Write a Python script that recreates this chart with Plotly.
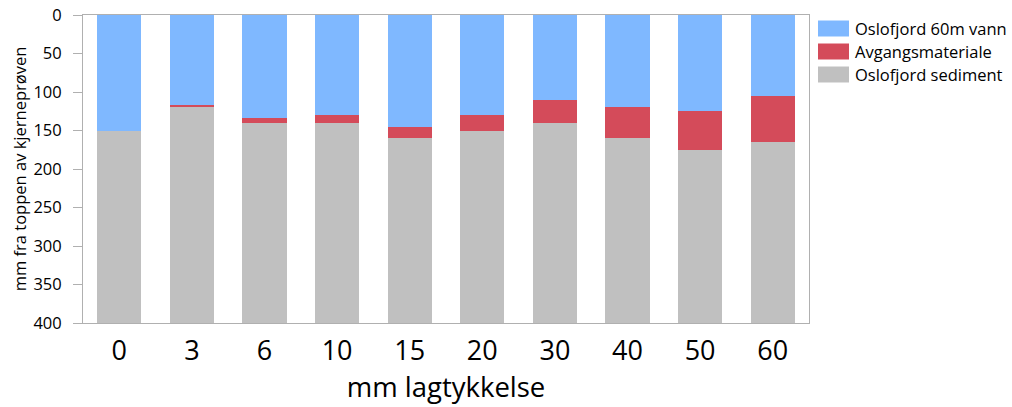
import plotly.graph_objects as go

categories = ["0", "3", "6", "10", "15", "20", "30", "40", "50", "60"]
vann = [150, 117, 134, 130, 145, 130, 110, 120, 125, 105]
avgang = [0, 3, 6, 10, 15, 20, 30, 40, 50, 60]
sediment = [250, 280, 260, 260, 240, 250, 260, 240, 225, 235]

names = ["Oslofjord 60m vann", "Avgangsmateriale", "Oslofjord sediment"]
colors = ["#7FB8FF", "#D44B5A", "#C0C0C0"]
series = [vann, avgang, sediment]

fig = go.Figure()
for nm, col, vals in zip(names, colors, series):
    fig.add_trace(go.Bar(x=categories, y=vals, name=nm, marker=dict(color=col, line=dict(width=0)),
                         showlegend=False))

font_family = "Open Sans, Noto Sans, DejaVu Sans"
fig.update_layout(
    barmode="stack",
    bargap=0.39,
    width=1012, height=407,
    margin=dict(l=83, r=203, t=15, b=84),
    plot_bgcolor="white", paper_bgcolor="white",
    font=dict(family=font_family, color="#000000"),
    xaxis=dict(type="category", showgrid=False, showline=True, linecolor="#B0B0B0", linewidth=1,
               mirror=True, ticks="", tickfont=dict(size=27), ticklabelstandoff=4,
               automargin=False,
               title=dict(text="mm lagtykkelse", font=dict(size=27.5), standoff=4)),
    yaxis=dict(range=[400, 0], tickvals=[0, 50, 100, 150, 200, 250, 300, 350, 400],
               showgrid=False, showline=True, linecolor="#B0B0B0", linewidth=1, mirror=True,
               ticks="outside", ticklen=9, tickcolor="#B0B0B0", tickfont=dict(size=16.5),
               ticklabelstandoff=8, automargin=False,
               title=dict(text="mm fra toppen av kjerneprøven", font=dict(size=16.5), standoff=2)),
)

# Manual legend
leg_y = [28.5, 51.5, 74.5]
for nm, col, yc in zip(names, colors, leg_y):
    fig.add_shape(type="rect", xref="paper", yref="paper",
                  x0=(818 - 83) / 726, x1=(849 - 83) / 726,
                  y0=(323 - (yc - 8)) / 308, y1=(323 - (yc + 8)) / 308,
                  fillcolor=col, line=dict(width=0))
    fig.add_annotation(xref="paper", yref="paper", x=(853 - 83) / 726, y=(323 - yc) / 308,
                       text=nm, showarrow=False, xanchor="left", yanchor="middle",
                       font=dict(size=16.5, family=font_family))

fig.write_html("out.html")
